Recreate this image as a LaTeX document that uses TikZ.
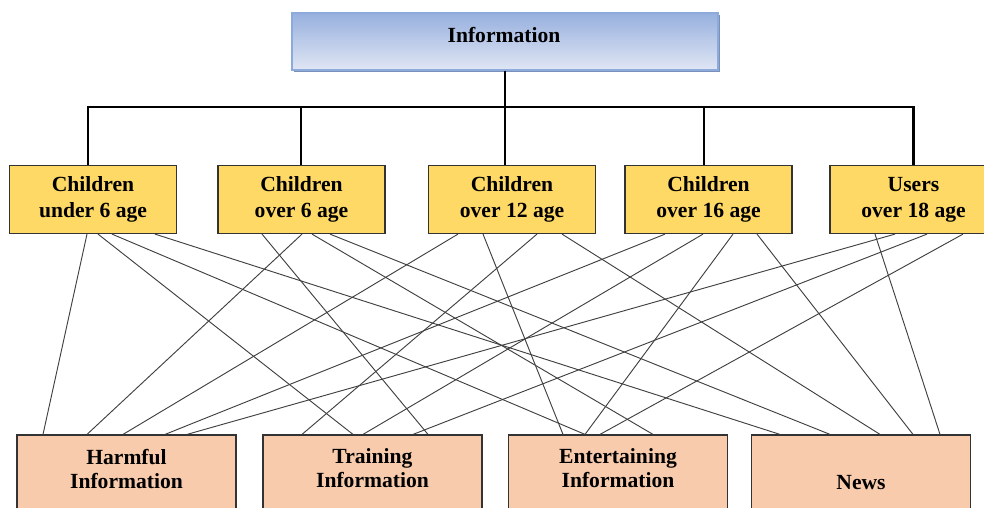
\documentclass[tikz,border=0pt]{standalone}
\usepackage{fontspec}
\setmainfont{Liberation Serif}
\usetikzlibrary{positioning,calc,shadows}

\definecolor{agefill}{HTML}{FFD966}
\definecolor{kindfill}{HTML}{F8CBAD}
\definecolor{infoedge}{HTML}{8EAADB}
\definecolor{infotop}{HTML}{97B0DE}
\definecolor{infobot}{HTML}{E0E6F4}

\begin{document}
\begin{tikzpicture}[x=0.75pt,y=-0.75pt]
\tikzstyle{every node}+=[inner sep=0pt, font=\fontsize{16.2}{19.5}\selectfont\bfseries, align=center]
\tikzstyle{infobox}=[draw=infoedge, line width=0.8pt, top color=infotop, bottom color=infobot, minimum width=319.5pt, minimum height=42.75pt, drop shadow={shadow xshift=1.6pt, shadow yshift=-1.6pt, fill=infoedge!85!black, opacity=1}]
\tikzstyle{agebox}=[draw=black!80, line width=0.9pt, fill=agefill, minimum width=125.25pt, minimum height=51pt]
\tikzstyle{kindbox}=[draw=black!80, line width=0.9pt, fill=kindfill, minimum width=164.25pt, minimum height=82.5pt]
\tikzstyle{kindtxt}=[font=\fontsize{16.2}{18}\selectfont\bfseries]
\tikzstyle{tree}=[black, line width=2pt]
\tikzstyle{link}=[black!75, line width=0.7pt]
\useasboundingbox (0,0) rectangle (984,507);
\clip (0,0) rectangle (984,507);
% top box
\node [infobox] (info) at (505,41.5) {};
\node (infotxt) at (504,34.5) {Information};
% age groups
\node [agebox] (c1) at (93,199.5) {Children\\under 6 age};
\node [agebox] (c2) at (301.5,199.5) {Children\\over 6 age};
\node [agebox] (c3) at (512,199.5) {Children\\over 12 age};
\node [agebox] (c4) at (708.5,199.5) {Children\\over 16 age};
\node [agebox] (c5) at (913.5,199.5) {Users\\over 18 age};
% kinds of information
\node [kindbox] (harm) at (126.5,490) {};
\node [kindtxt] (harmtxt) at (126.5,468.5) {Harmful\\Information};
\node [kindbox] (train) at (372.5,490) {};
\node [kindtxt] (traintxt) at (372.5,468.5) {Training\\Information};
\node [kindbox] (fun) at (618,490) {};
\node [kindtxt] (funtxt) at (618,468.5) {Entertaining\\Information};
\node [kindbox] (news) at (861,490) {};
\node [kindtxt] (newstxt) at (861,482.5) {News};
% tree
\coordinate (bus) at (505,107);
\draw [tree] ($(c1.north)+(-5,0)$) |- (bus) -| (c5.north);
\draw [tree] (info.south) -- (bus);
\draw [tree] ($(c2.north)+(-0.5,0)$) -- ($(c2.north |- bus)+(-0.5,0)$);
\draw [tree] ($(c3.north)+(-7,0)$) -- ($(c3.north |- bus)+(-7,0)$);
\draw [tree] ($(c4.north)+(-4.5,0)$) -- ($(c4.north |- bus)+(-4.5,0)$);
% links from c1
\draw [link] ($(c1.south)+(-6,0)$) -- ($(harm.north)+(-83.5,0)$);
\draw [link] ($(c1.south)+(5,0)$) -- ($(train.north)+(-19.5,0)$);
\draw [link] ($(c1.south)+(19,0)$) -- ($(fun.north)+(-33,0)$);
\draw [link] ($(c1.south)+(62,0)$) -- ($(news.north)+(-81,0)$);
% links from c2
\draw [link] ($(c2.south)+(0.5,0)$) -- ($(harm.north)+(-39.5,0)$);
\draw [link] ($(c2.south)+(-39.5,0)$) -- ($(train.north)+(55.5,0)$);
\draw [link] ($(c2.south)+(10.5,0)$) -- ($(fun.north)+(35,0)$);
\draw [link] ($(c2.south)+(28.5,0)$) -- ($(news.north)+(-31,0)$);
% links from c3
\draw [link] ($(c3.south)+(-54,0)$) -- ($(harm.north)+(-3.5,0)$);
\draw [link] ($(c3.south)+(25,0)$) -- ($(train.north)+(-70.5,0)$);
\draw [link] ($(c3.south)+(-29,0)$) -- ($(fun.north)+(-55,0)$);
\draw [link] ($(c3.south)+(50,0)$) -- ($(news.north)+(19,0)$);
% links from c4
\draw [link] ($(c4.south)+(-43.5,0)$) -- ($(harm.north)+(38.5,0)$);
\draw [link] ($(c4.south)+(-5.5,0)$) -- ($(train.north)+(-9.5,0)$);
\draw [link] ($(c4.south)+(24.5,0)$) -- ($(fun.north)+(-33,0)$);
\draw [link] ($(c4.south)+(48.5,0)$) -- ($(news.north)+(52,0)$);
% links from c5
\draw [link] ($(c5.south)+(-18.5,0)$) -- ($(harm.north)+(60.5,0)$);
\draw [link] ($(c5.south)+(13.5,0)$) -- ($(train.north)+(40.5,0)$);
\draw [link] ($(c5.south)+(49.5,0)$) -- ($(fun.north)+(-18,0)$);
\draw [link] ($(c5.south)+(-38.5,0)$) -- ($(news.north)+(79,0)$);
\end{tikzpicture}
\end{document}
